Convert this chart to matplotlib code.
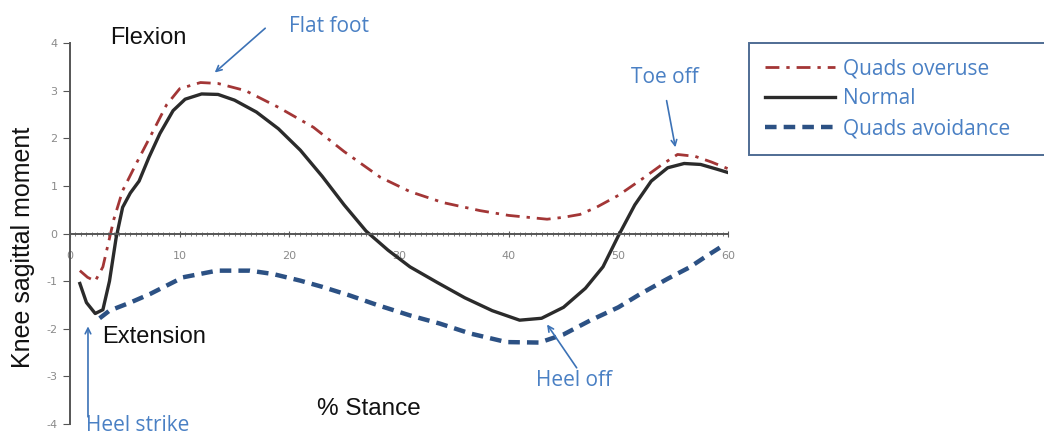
import matplotlib
matplotlib.use('Agg')
import matplotlib.pyplot as plt
from matplotlib.ticker import MultipleLocator

plt.rcParams['axes.unicode_minus'] = False

# curves: (% stance, knee moment)
normal_x = [0.9, 1.5, 2.3, 3.0, 3.6, 4.2, 4.8, 5.5, 6.3, 7.2, 8.2, 9.4, 10.5, 12.0, 13.5,
            15.0, 17.0, 19.0, 21.0, 23.0, 25.0, 27.0, 29.0, 31.0, 33.5, 36.0, 38.5, 41.0,
            43.0, 45.0, 47.0, 48.6, 50.0, 51.5, 53.0, 54.5, 56.0, 57.5, 59.0, 60.0]
normal_y = [-1.05, -1.45, -1.68, -1.6, -1.0, -0.1, 0.55, 0.85, 1.1, 1.6, 2.1, 2.58, 2.82, 2.93, 2.92,
            2.8, 2.55, 2.2, 1.75, 1.2, 0.6, 0.05, -0.35, -0.7, -1.03, -1.35, -1.62, -1.82,
            -1.78, -1.55, -1.15, -0.7, -0.05, 0.6, 1.1, 1.38, 1.47, 1.45, 1.35, 1.28]

overuse_x = [0.9, 1.6, 2.3, 3.0, 3.5, 4.0, 4.8, 6.0, 7.6, 8.8, 10.0, 11.9, 13.5, 16.0, 19.0,
             22.2, 25.0, 28.3, 31.0, 34.0, 37.4, 40.0, 43.5, 45.0, 46.5, 48.0, 50.0, 52.2,
             54.0, 55.4, 57.0, 58.5, 60.0]
overuse_y = [-0.78, -0.92, -1.0, -0.7, -0.2, 0.3, 0.9, 1.45, 2.16, 2.7, 3.04, 3.17, 3.15, 3.0, 2.65,
             2.23, 1.72, 1.18, 0.88, 0.65, 0.48, 0.38, 0.3, 0.34, 0.4, 0.55, 0.8, 1.15,
             1.45, 1.66, 1.62, 1.5, 1.36]

avoid_x = [2.7, 3.6, 5.5, 7.3, 10.3, 13.4, 16.4, 18.5, 21.0, 23.0, 25.5, 28.0, 31.0, 33.7,
           36.5, 39.8, 42.8, 45.0, 47.4, 50.0, 52.0, 54.5, 56.5, 58.0, 59.3]
avoid_y = [-1.78, -1.62, -1.45, -1.27, -0.92, -0.78, -0.78, -0.85, -0.99, -1.12, -1.3, -1.5, -1.72, -1.89,
           -2.1, -2.28, -2.29, -2.12, -1.83, -1.55, -1.27, -0.95, -0.71, -0.48, -0.29]

x_ticks = [0, 10, 20, 30, 40, 50, 60]
y_ticks = [-4, -3, -2, -1, 0, 1, 2, 3, 4]

blue_txt = '#4a80c4'
arrow_c = '#3c72b6'

fig = plt.figure(figsize=(10.44, 4.36), dpi=100)
ax = fig.add_axes([70 / 1044, 1 - 424 / 436, (728 - 70) / 1044, (424 - 43) / 436])

l1, = ax.plot(overuse_x, overuse_y, color='#a33636', lw=2, dashes=(5, 2.5, 1.2, 2.5),
              label='Quads overuse')
l2, = ax.plot(normal_x, normal_y, color='#2b2b2b', lw=2.4, label='Normal')
l3, = ax.plot(avoid_x, avoid_y, color='#2c5184', lw=3.2, dashes=(2.6, 1.6), label='Quads avoidance')

ax.set_xlim(0, 60)
ax.set_ylim(-4, 4)
ax.spines['top'].set_visible(False)
ax.spines['right'].set_visible(False)
ax.spines['bottom'].set_position(('data', 0))
for s in ['left', 'bottom']:
    ax.spines[s].set_color('#555555')
    ax.spines[s].set_linewidth(1.4)

ax.set_xticks(x_ticks)
ax.set_yticks(y_ticks)
ax.xaxis.set_minor_locator(MultipleLocator(0.5))
ax.tick_params(axis='x', which='major', direction='inout', length=5, pad=10,
               labelsize=8, labelcolor='#8a8a8a', color='#555555')
ax.tick_params(axis='x', which='minor', direction='inout', length=3, color='#666666')
ax.tick_params(axis='y', direction='out', length=5, pad=4, labelsize=8,
               labelcolor='#8a8a8a', color='#555555')

fig.text(23 / 1044, 1 - 247 / 436, 'Knee sagittal moment', rotation=90, fontsize=18,
         family='Liberation Sans', color='#111111', ha='center', va='center')

ax.text(3.7, 4.1, 'Flexion', fontsize=17, family='Liberation Sans', color='#111111',
        ha='left', va='center')
ax.text(2.9, -2.18, 'Extension', fontsize=17, family='Liberation Sans', color='#111111',
        ha='left', va='center')
ax.text(22.5, -3.68, '% Stance', fontsize=17.5, family='Liberation Sans', color='#111111',
        ha='left', va='center')

# event labels and arrows
ann = dict(fontsize=15, family='Open Sans', color=blue_txt, ha='center', va='center', clip_on=False)
arr = dict(arrowstyle='->', color=arrow_c, lw=1.2, shrinkA=0, shrinkB=0)
ax.text(23.6, 4.35, 'Flat foot', **ann)
ax.annotate('', xy=(13.2, 3.38), xytext=(17.8, 4.31), arrowprops=arr, annotation_clip=False)
ax.text(54.2, 3.28, 'Toe off', **ann)
ax.annotate('', xy=(55.2, 1.81), xytext=(54.4, 2.79), arrowprops=arr, annotation_clip=False)
ax.text(46.0, -3.09, 'Heel off', **ann)
ax.annotate('', xy=(43.5, -1.91), xytext=(46.2, -2.82), arrowprops=arr, annotation_clip=False)
ax.text(6.2, -4.03, 'Heel strike', **ann)
ax.annotate('', xy=(1.64, -1.95), xytext=(1.64, -3.85), arrowprops=arr, annotation_clip=False)

leg = fig.legend(handles=[l1, l2, l3], loc='upper left', mode='expand',
                 bbox_to_anchor=(749 / 1044, 1 - 157 / 436, 0.3, (157 - 43) / 436),
                 prop={'family': 'Open Sans', 'size': 15}, labelcolor=blue_txt,
                 handlelength=3.4, handletextpad=0.35, borderpad=0.75, labelspacing=0.42,
                 borderaxespad=0, fancybox=False, framealpha=1)
leg.get_frame().set_edgecolor('#4f6d94')
leg.get_frame().set_linewidth(1.4)

fig.savefig('out.png', dpi=100)
